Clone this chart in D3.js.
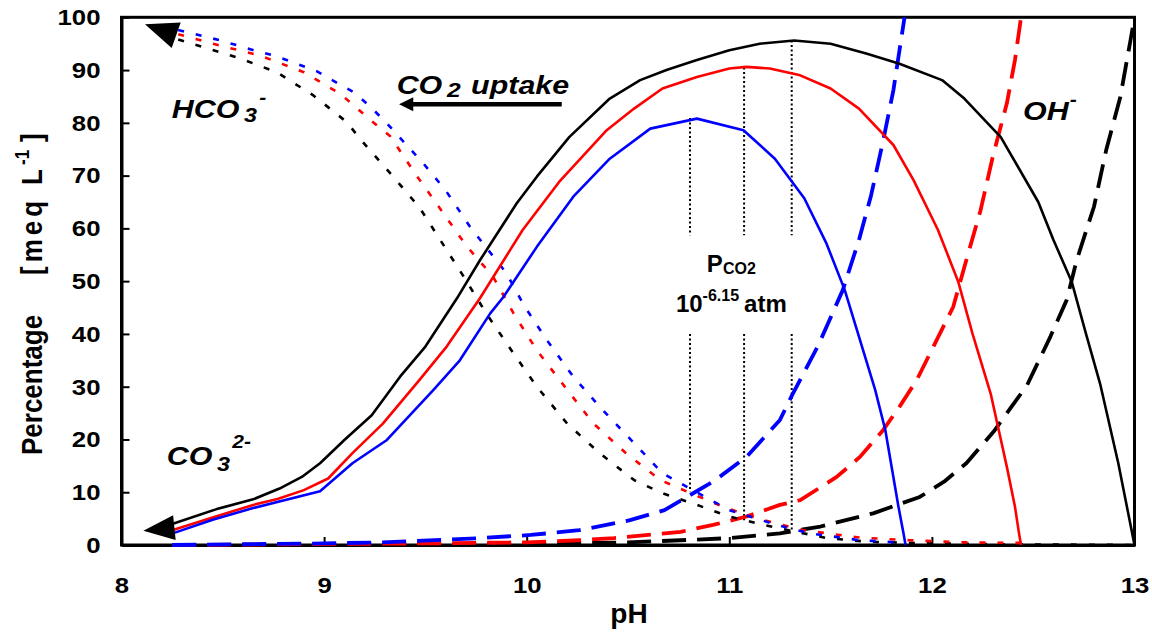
<!DOCTYPE html>
<html><head><meta charset="utf-8">
<script src="https://cdn.jsdelivr.net/npm/d3@7/dist/d3.min.js"></script>
<style>
html,body{margin:0;padding:0;background:#fff;}
svg text{font-family:"Liberation Sans",Arial,sans-serif;font-weight:bold;fill:#000;}
</style></head>
<body><svg id="chart" width="1152" height="633"></svg>
<script>
// ---- data (pH, meq/L %) ----
const pHTicks = [8, 9, 10, 11, 12, 13];
const yTicks = [0, 10, 20, 30, 40, 50, 60, 70, 80, 90, 100];

const co3Black = [[8.25,4.0],[8.47,6.8],[8.65,8.65],[8.78,10.7],[8.89,12.9],[8.98,15.5],[9.1,19.9],[9.235,24.6],[9.375,31.9],[9.5,37.6],[9.655,46.7],[9.77,54],[9.95,64.7],[10.05,69.8],[10.21,77.3],[10.41,84.6],[10.56,88.1],[10.69,90],[10.84,91.9],[11.0,93.75],[11.15,95],[11.32,95.6],[11.5,95],[11.68,93.1],[11.84,91.2],[12.05,88.1],[12.16,84.6],[12.34,77.3],[12.525,65],[12.6,57.8],[12.69,49.9],[12.76,40.1],[12.83,30.6],[12.92,15.5],[13.0,0]];
const co3Red = [[8.25,2.8],[8.45,5.2],[8.65,7.6],[8.77,8.7],[8.9,10.4],[9.02,12.6],[9.14,17.4],[9.29,23],[9.47,31.25],[9.605,37.6],[9.77,46.8],[9.98,59.7],[10.16,68.8],[10.395,78.6],[10.53,82.7],[10.67,86.5],[10.84,88.7],[11.0,90.3],[11.085,90.6],[11.2,90.3],[11.35,89],[11.5,86.5],[11.64,82.7],[11.81,75.8],[11.91,69.1],[12.03,59.7],[12.13,49.9],[12.2,40.1],[12.29,28.7],[12.37,14.8],[12.41,7.25],[12.43,2.2],[12.44,0]];
const co3Blue = [[8.26,2.3],[8.45,4.8],[8.65,7.0],[8.98,10.2],[9.14,15.5],[9.31,19.9],[9.54,29.4],[9.67,35],[9.82,43.9],[9.885,47],[10.05,56.5],[10.23,66],[10.41,73.2],[10.61,78.9],[10.84,80.8],[11.07,78.6],[11.225,73.2],[11.37,65.7],[11.48,57.1],[11.57,48.3],[11.72,29.4],[11.77,21.8],[11.835,7.25],[11.86,2.2],[11.87,0]];

const hco3Black = [[8.28,95.8],[8.585,92.2],[8.766,89.6],[8.947,85.2],[9.11,80.2],[9.19,76.4],[9.35,69.4],[9.47,64],[9.69,50.8],[9.8,43.9],[9.935,36.3],[10.05,30],[10.2,23],[10.36,17.4],[10.53,12.3],[10.67,9.8],[10.84,7.6],[11.0,5.4],[11.17,3.8],[11.48,1.3],[11.69,0.6],[12.0,0.3],[12.5,0.1],[13.0,0]];
const hco3Red = [[8.28,96.8],[8.49,94.6],[8.68,92.8],[8.9,89.6],[9.08,85.5],[9.23,80.5],[9.325,77.5],[9.46,69.8],[9.59,62.8],[9.7,56.8],[9.835,50.8],[9.935,43.9],[10.05,36.9],[10.2,29.4],[10.33,23],[10.49,17.4],[10.66,12.3],[10.81,9.8],[10.97,7.25],[11.135,5.05],[11.365,2.8],[11.645,1.4],[11.89,0.9],[12.14,0.5],[12.44,0.4]];
const hco3Blue = [[8.28,97.6],[8.49,95.6],[8.667,93.6],[8.766,92.6],[8.963,89.8],[9.15,85.7],[9.23,83],[9.31,79.9],[9.49,72.3],[9.6,67.2],[9.72,60.3],[9.9,51.5],[9.985,45.5],[10.1,38.8],[10.23,31.9],[10.36,26.2],[10.53,19.3],[10.67,13.6],[10.82,10.4],[11.0,6.6],[11.235,3.8],[11.4,2.2],[11.645,0.9],[11.87,0.4]];

const ohBlack = [[8.25,0],[9.5,0.1],[10.0,0.2],[10.5,0.5],[10.76,0.9],[11.0,1.3],[11.25,2.2],[11.45,3.5],[11.71,6],[11.94,9.1],[12.06,12],[12.17,15.5],[12.305,21.5],[12.47,30.3],[12.585,39.5],[12.665,46.4],[12.715,54],[12.8,64.1],[12.86,74.8],[12.93,84.9],[12.98,95.6],[13.0,100]];
const ohRed = [[8.25,0],[9.5,0.3],[10.0,0.5],[10.26,0.9],[10.43,1.3],[10.76,2.5],[10.92,3.8],[11.085,5.4],[11.25,7.6],[11.35,8.5],[11.53,12.9],[11.645,16.7],[11.76,21.8],[11.84,26.2],[11.925,31.25],[12.04,40.1],[12.105,45.1],[12.17,54],[12.24,63.4],[12.3,73.5],[12.37,83.7],[12.41,91.9],[12.44,100]];
const ohBlue = [[8.25,0],[9.0,0.3],[9.28,0.5],[9.77,1.3],[10.02,1.9],[10.26,2.8],[10.51,4.7],[10.68,6.6],[10.79,9.1],[10.92,12],[11.085,16.7],[11.25,23.7],[11.31,28.4],[11.44,37.9],[11.56,48.3],[11.64,57.8],[11.70,66.3],[11.76,76.7],[11.81,86.2],[11.84,93.75],[11.865,100]];

// PCO2 marker lines
const markerPH = [10.806, 11.073, 11.308];
const markerTop = [80.9, 90.5, 95.6];
const markerBottom = [10.1, 4.7, 2.8];
const markerGap = [58.7, 40];

// ---- layout ----
const svg = d3.select("#chart");
const x = d3.scaleLinear().domain([8, 13]).range([121.5, 1134.5]);
const y = d3.scaleLinear().domain([0, 100]).range([545, 17.3]);
const SX = 1.12; // horizontal stretch of tick text

// frame
svg.append("rect").attr("x", x(8)).attr("y", y(100))
  .attr("width", x(13) - x(8)).attr("height", y(0) - y(100))
  .attr("fill", "none").attr("stroke", "#000").attr("stroke-width", 3);

// axes
const gx = svg.append("g").attr("transform", `translate(0,${y(0)})`)
  .call(d3.axisBottom(x).tickValues(pHTicks).tickFormat(d3.format("d")).tickSizeInner(-8).tickSizeOuter(0).tickPadding(32));
const gy = svg.append("g").attr("transform", `translate(${x(8)},0)`)
  .call(d3.axisLeft(y).tickValues(yTicks).tickFormat(d3.format("d")).tickSizeInner(-8).tickSizeOuter(0).tickPadding(21));
[gx, gy].forEach(g => {
  g.select(".domain").attr("stroke", "#000").attr("stroke-width", 3);
  g.selectAll(".tick line").attr("stroke", "#000").attr("stroke-width", 2);
  g.selectAll(".tick text").style("font-size", "23px").attr("fill", "#000");
});
gx.selectAll(".tick text").attr("transform", `scale(${SX},1)`);
gy.selectAll(".tick text").attr("transform", `scale(${SX},1)`).attr("x", -21 / SX);

// axis titles
svg.append("text").attr("x", x(10.505)).attr("y", 623).attr("text-anchor", "middle")
  .style("font-size", "28px").text("pH");
const yt = svg.append("text").attr("transform", "translate(42,455) scale(1.15,1) rotate(-90)")
  .style("font-size", "26px");
yt.append("tspan").attr("x", 0).text("Percentage");
yt.append("tspan").attr("x", 180).style("letter-spacing", "4px").text("[meq");
yt.append("tspan").attr("x", 270).text("L");
yt.append("tspan").attr("x", 290).attr("dy", -11).style("font-size", "17px").text("-1");
yt.append("tspan").attr("x", 313).attr("dy", 11).text("]");

// marker dotted lines
markerPH.forEach((p, i) => {
  [[markerTop[i], markerGap[0]], [markerGap[1], markerBottom[i]]].forEach(seg => {
    svg.append("line").attr("x1", x(p)).attr("x2", x(p))
      .attr("y1", y(seg[0])).attr("y2", y(seg[1]))
      .attr("stroke", "#000").attr("stroke-width", 2).attr("stroke-dasharray", "2,2.5");
  });
});

// curves
const line = d3.line().x(d => x(d[0])).y(d => y(d[1]));
const colors = { black: "#000000", red: "#ff0000", blue: "#0000ff" };
const series = [
  { data: ohBlack, c: colors.black, w: 3.8, dash: "24,11" },
  { data: ohRed, c: colors.red, w: 3.8, dash: "24,11" },
  { data: ohBlue, c: colors.blue, w: 3.8, dash: "24,11" },
  { data: hco3Black, c: colors.black, w: 2.6, dash: "6,12" },
  { data: hco3Red, c: colors.red, w: 2.6, dash: "6,12" },
  { data: hco3Blue, c: colors.blue, w: 2.6, dash: "6,12" },
  { data: co3Black, c: colors.black, w: 2.6, dash: null },
  { data: co3Red, c: colors.red, w: 2.6, dash: null },
  { data: co3Blue, c: colors.blue, w: 2.6, dash: null }
];
series.forEach(s => {
  svg.append("path").attr("d", line(s.data)).attr("fill", "none")
    .attr("stroke", s.c).attr("stroke-width", s.w)
    .attr("stroke-dasharray", s.dash).attr("stroke-linejoin", "round");
});

// arrowheads (tip, base centre in data units; half-width in px)
function arrowHead(tip, base, half) {
  const tx = x(tip[0]), ty = y(tip[1]), bx = x(base[0]), by = y(base[1]);
  const dx = tx - bx, dy = ty - by, L = Math.hypot(dx, dy);
  const nx = -dy / L, ny = dx / L;
  svg.append("path").attr("d",
    `M${tx},${ty}L${bx + nx * half},${by + ny * half}L${bx - nx * half},${by - ny * half}Z`)
    .attr("fill", "#000");
}
arrowHead([8.116, 98.7], [8.27, 96.6], 13.5);
arrowHead([8.108, 2.7], [8.261, 3.3], 12.5);

// CO2 uptake arrow
const upY = 83.5;
svg.append("line").attr("x1", x(10.173)).attr("x2", x(9.43)).attr("y1", y(upY)).attr("y2", y(upY))
  .attr("stroke", "#000").attr("stroke-width", 4.5);
arrowHead([9.37, upY], [9.44, upY], 7);

// italic labels
const SXI = 1.17;
function label(px, py, parts) {
  const t = svg.append("text")
    .attr("transform", `translate(${x(px)},${y(py)}) scale(${SXI},1)`)
    .style("font-style", "italic").style("font-size", "26px");
  parts.forEach(p => {
    const s = t.append("tspan").text(p.t);
    if (p.dy) s.attr("dy", p.dy);
    if (p.dx) s.attr("dx", p.dx);
    if (p.fs) s.style("font-size", p.fs + "px");
  });
}
label(8.248, 80.9, [{ t: "HCO" }, { t: "3", dx: 4, dy: 4, fs: 20 }, { t: "-", dx: 2, dy: -18, fs: 18 }]);
label(9.358, 85.5, [{ t: "CO" }, { t: "2", dx: 4, dy: 3, fs: 21 }, { t: "uptake", dx: 9, dy: -3 }]);
label(8.223, 15.15, [{ t: "CO" }, { t: "3", dx: 4, dy: 6, fs: 20 }, { t: "2-", dx: 2, dy: -23, fs: 18 }]);
label(12.45, 80.6, [{ t: "OH" }, { t: "-", dx: 1, dy: -14, fs: 18 }]);

// PCO2 annotation
const pc = svg.append("text").attr("x", x(11.01)).attr("y", y(51.7)).attr("text-anchor", "middle").style("font-size", "24px");
pc.append("tspan").text("P");
pc.append("tspan").attr("dy", 2).style("font-size", "16px").text("CO2");
const pa = svg.append("text").attr("x", x(11.01)).attr("y", y(44.1)).attr("text-anchor", "middle").style("font-size", "24px");
pa.append("tspan").text("10");
pa.append("tspan").attr("dy", -11).style("font-size", "16px").text("-6.15");
pa.append("tspan").attr("dy", 11).attr("dx", 5).text("atm");
</script></body></html>
